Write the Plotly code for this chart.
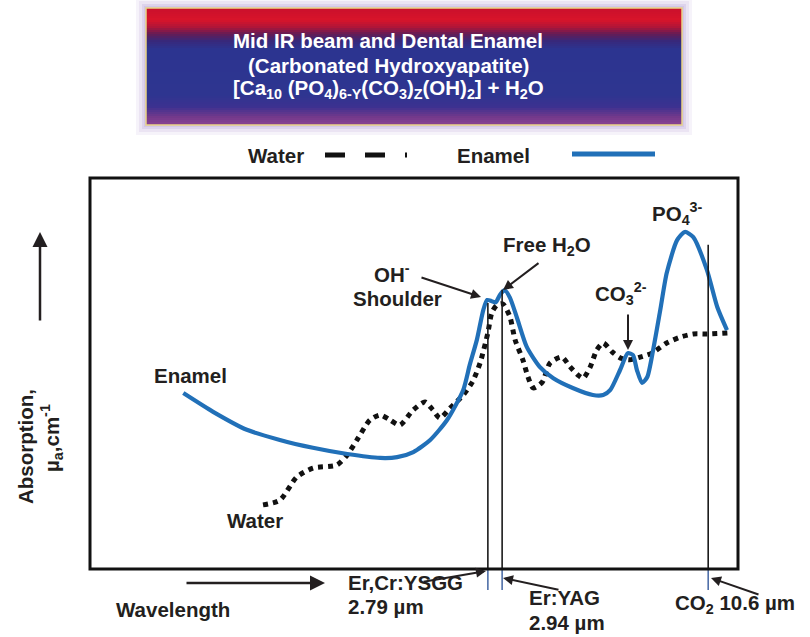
import plotly.graph_objects as go

W, H = 810, 637

# ---- data (relative wavelength position 0-100 across the frame, relative absorption 0-100) ----
enamel_x = [14.4, 19.0, 24.2, 29.3, 34.4, 39.7, 44.8, 47.4, 49.9, 52.5, 55.1, 57.6, 58.6,
            59.7, 60.7, 61.3, 62.0, 62.6, 63.3, 64.0, 64.8, 65.9, 67.4, 69.4, 71.5, 74.5,
            77.6, 79.2, 80.3, 81.8, 83.0, 83.8, 84.4, 85.2, 86.0, 86.9, 88.0, 89.0, 90.6,
            91.8, 93.1, 95.2, 96.8, 98.3]
enamel_y = [45.0, 40.2, 35.6, 33.0, 31.0, 29.4, 28.4, 28.6, 29.9, 33.0, 38.1, 45.8, 52.2,
            58.6, 66.3, 68.8, 68.5, 68.2, 70.2, 71.3, 69.4, 64.2, 56.8, 51.7, 48.8, 46.3,
            44.5, 44.5, 45.8, 50.9, 55.2, 54.7, 50.9, 47.6, 49.1, 56.0, 66.2, 75.7, 84.1,
            86.2, 84.9, 76.5, 67.0, 61.1]

water_x = [26.7, 29.3, 31.9, 34.4, 38.1, 39.7, 41.2, 43.2, 44.8, 46.3, 47.8, 49.9, 51.7,
           52.9, 54.0, 55.6, 57.6, 59.0, 60.2, 61.4, 62.0, 62.8, 63.7, 64.8, 65.6, 66.8,
           67.6, 68.4, 69.8, 71.0, 72.8, 74.1, 75.3, 76.1, 77.2, 78.2, 79.2, 80.6, 81.8,
           83.3, 84.9, 86.7, 89.0, 91.1, 93.1, 95.2, 98.5]
water_y = [16.4, 17.6, 23.5, 25.8, 26.6, 29.2, 33.0, 38.1, 39.4, 38.1, 36.8, 40.7, 42.7,
           40.7, 38.6, 41.2, 44.5, 47.8, 52.7, 60.4, 65.5, 67.5, 67.8, 64.5, 58.6, 53.5,
           49.1, 46.3, 47.8, 52.7, 54.2, 51.7, 49.6, 48.8, 51.7, 56.0, 57.8, 55.5, 54.0,
           53.5, 54.2, 55.2, 57.8, 59.3, 60.1, 60.1, 60.4]

laser_names = ["Er,Cr:YSGG 2.79 µm", "Er:YAG 2.94 µm", "CO2 10.6 µm"]
laser_x = [61.4, 63.6, 95.4]
laser_top = [68.0, 71.4, 82.9]
laser_below = -5.4

BLUE = "#2170b8"
INK = "#231f20"
FONT = "Liberation Sans, Arial, sans-serif"
FS = 20.5


def P(px):
    return px / W


def Q(py):
    return 1 - py / H


fig = go.Figure()

fig.add_trace(go.Scatter(x=water_x, y=water_y, mode="lines", name="Water",
                         line=dict(color="#111111", width=5, dash="5px,5px", shape="spline",
                                   smoothing=0.7),
                         hoverinfo="skip"))
fig.add_trace(go.Scatter(x=enamel_x, y=enamel_y, mode="lines", name="Enamel",
                         line=dict(color=BLUE, width=4.2, shape="spline", smoothing=0.65),
                         hoverinfo="skip"))

for lx, lt, nm in zip(laser_x, laser_top, laser_names):
    fig.add_trace(go.Scatter(x=[lx, lx], y=[lt, 0], mode="lines", name=nm,
                             line=dict(color="#1a1a1a", width=1.6), hoverinfo="skip"))
    fig.add_trace(go.Scatter(x=[lx, lx], y=[0, laser_below], mode="lines", showlegend=False,
                             line=dict(color="#4f6fa8", width=1.6), hoverinfo="skip"))

shapes = []

# glow around the title box
for pad, col in [(10, "#f6f3fa"), (7, "#ebe4f3"), (4, "#ddd3ec"), (2, "#d2c6e7")]:
    shapes.append(dict(type="rect", xref="paper", yref="paper",
                       x0=P(146 - pad), x1=P(682 + pad), y0=Q(125 + pad), y1=Q(8 - pad),
                       fillcolor=col, line=dict(width=0), layer="below"))


def hex2rgb(h):
    h = h.lstrip("#")
    return tuple(int(h[i:i + 2], 16) for i in (0, 2, 4))


stops = [(8, "#c9102c"), (20, "#d8142a"), (27, "#b01538"), (34, "#641c55"),
         (41, "#38287a"), (49, "#2c3490"), (95, "#2e3590"), (107, "#3d3190"),
         (117, "#73398b"), (125, "#8a4292")]


def grad(py):
    for (y0, c0), (y1, c1) in zip(stops[:-1], stops[1:]):
        if y0 <= py <= y1:
            t = (py - y0) / (y1 - y0)
            a, b = hex2rgb(c0), hex2rgb(c1)
            return "rgb(%d,%d,%d)" % tuple(round(a[i] + (b[i] - a[i]) * t) for i in range(3))
    return stops[-1][1]


py = 8
while py < 125:
    shapes.append(dict(type="rect", xref="paper", yref="paper",
                       x0=P(146), x1=P(682), y0=Q(min(py + 2.2, 125)), y1=Q(py),
                       fillcolor=grad(py + 1), line=dict(width=0), layer="below"))
    py += 2
shapes.append(dict(type="rect", xref="paper", yref="paper",
                   x0=P(146), x1=P(682), y0=Q(125), y1=Q(8),
                   line=dict(color="#e9d387", width=1.5), layer="below"))

# legend samples
shapes.append(dict(type="line", xref="paper", yref="paper", x0=P(325), x1=P(407),
                   y0=Q(155), y1=Q(155), line=dict(color="#111111", width=5, dash="20px,20px")))
shapes.append(dict(type="line", xref="paper", yref="paper", x0=P(572), x1=P(655),
                   y0=Q(154), y1=Q(154), line=dict(color=BLUE, width=5)))

# plot frame
shapes.append(dict(type="rect", xref="paper", yref="paper", x0=P(90), x1=P(738),
                   y0=Q(569), y1=Q(178), line=dict(color="#111111", width=3)))

annotations = []


def txt(s, x, y, size=FS, anchor="center", angle=0, color=INK):
    annotations.append(dict(text="<b>%s</b>" % s, xref="paper", yref="paper", x=P(x), y=Q(y),
                            xanchor=anchor, yanchor="middle", showarrow=False, textangle=angle,
                            font=dict(family=FONT, size=size, color=color)))


def arrow(tx, ty, hx, hy, head=2, size=1.0, width=2.0):
    annotations.append(dict(text="", xref="paper", yref="paper", x=P(hx), y=Q(hy),
                            ax=tx - hx, ay=ty - hy, axref="pixel", ayref="pixel",
                            showarrow=True, arrowhead=head, arrowsize=size, arrowwidth=width,
                            arrowcolor=INK, standoff=0, startstandoff=0))


# title
txt("Mid IR beam and Dental Enamel", 388, 41, color="white")
txt("(Carbonated Hydroxyapatite)", 388, 65, color="white")
txt("[Ca<sub>10</sub> (PO<sub>4</sub>)<sub>6-Y</sub>(CO<sub>3</sub>)<sub>Z</sub>(OH)<sub>2</sub>] + H<sub>2</sub>O",
    388, 89, color="white")

# legend
txt("Water", 276, 155)
txt("Enamel", 494, 155)

# in-plot labels
txt("OH<sup>-</sup>", 392, 273)
txt("Shoulder", 397, 298)
txt("Free H<sub>2</sub>O", 547, 246)
txt("CO<sub>3</sub><sup>2-</sup>", 621, 293)
txt("PO<sub>4</sub><sup>3-</sup>", 677, 213)
txt("Enamel", 190, 375)
txt("Water", 255, 520)

# bottom labels
txt("Er,Cr:YSGG", 346, 582, anchor="left")
txt("2.79 µm", 346, 606, anchor="left")
txt("Er:YAG", 527, 597, anchor="left")
txt("2.94 µm", 527, 622, anchor="left")
txt("CO<sub>2</sub> 10.6 µm", 673, 604, anchor="left")
txt("Wavelength", 173, 609)

# y label
txt("Absorption,", 25, 447, angle=-90)
txt("µ<sub>a</sub>,cm<sup>-1</sup>", 52, 438, angle=-90)

# arrows
arrow(420, 277, 481, 297)
arrow(540, 262, 503, 290)
arrow(628, 313, 628, 350)
arrow(422, 582, 486, 571)
arrow(560, 590, 503, 578)
arrow(760, 595, 711, 578)
arrow(185, 583, 325, 583, head=2, size=1.2, width=2.5)
arrow(40, 322, 40, 232, head=2, size=1.2, width=2.5)

fig.update_layout(
    width=W, height=H,
    margin=dict(l=0, r=0, t=0, b=0),
    paper_bgcolor="white", plot_bgcolor="rgba(0,0,0,0)",
    showlegend=False,
    xaxis=dict(domain=[90 / W, 738 / W], range=[0, 100], visible=False, fixedrange=True),
    yaxis=dict(domain=[1 - 600 / H, 1 - 178 / H], range=[-7.93, 100], visible=False,
               fixedrange=True),
    shapes=shapes,
    annotations=annotations,
)

fig.write_html("out.html", config={"displayModeBar": False})

# remove the browser's default page margin so the figure sits at the window origin
with open("out.html", encoding="utf-8") as f:
    html = f.read()
html = html.replace("<head>", "<head><style>html,body{margin:0;padding:0;overflow:hidden;}</style>", 1)
with open("out.html", "w", encoding="utf-8") as f:
    f.write(html)
